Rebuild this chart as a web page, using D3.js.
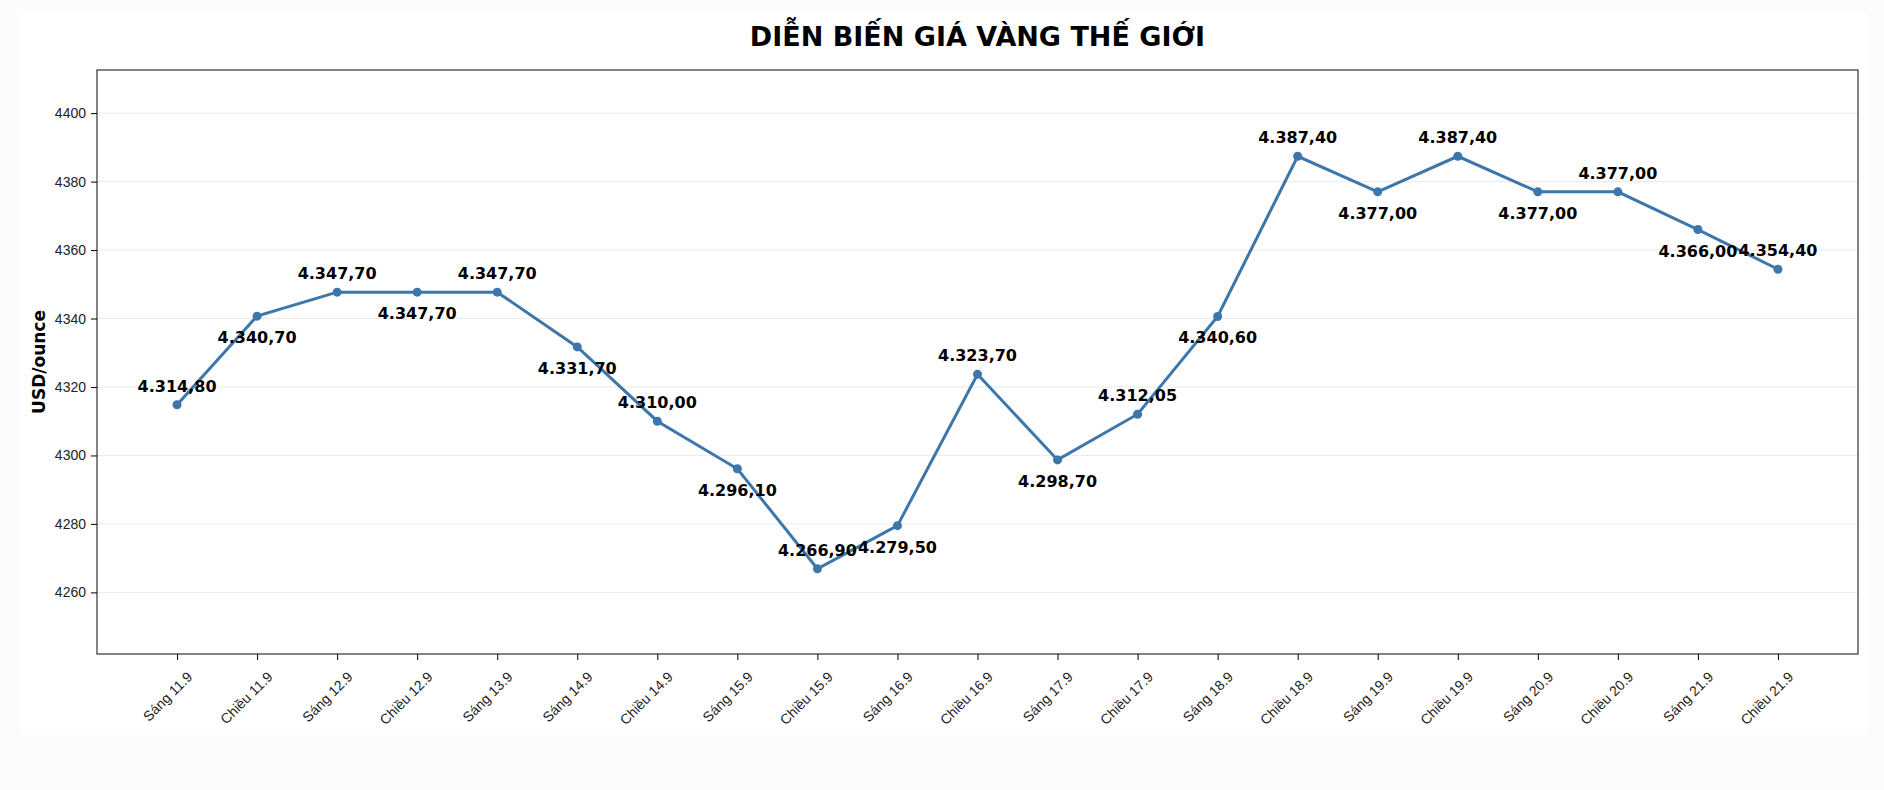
<!DOCTYPE html>
<html>
<head>
<meta charset="utf-8">
<script src="https://cdn.jsdelivr.net/npm/d3@7"></script>
<style>
  body { margin: 0; background: #fcfcfc; font-family: "DejaVu Sans", sans-serif; }
  .grid line { stroke: #ebebeb; }
  .axis text { font-size: 14px; fill: #222; }
  .lbl { font-size: 16px; font-weight: bold; fill: #000; }
</style>
</head>
<body>
<svg id="chart" width="1884" height="790"></svg>
<script>
const sessions = ["Sáng 11.9", "Chiều 11.9", "Sáng 12.9", "Chiều 12.9", "Sáng 13.9", "Sáng 14.9", "Chiều 14.9",
  "Sáng 15.9", "Chiều 15.9", "Sáng 16.9", "Chiều 16.9", "Sáng 17.9", "Chiều 17.9", "Sáng 18.9",
  "Chiều 18.9", "Sáng 19.9", "Chiều 19.9", "Sáng 20.9", "Chiều 20.9", "Sáng 21.9", "Chiều 21.9"];
const prices = [4314.80, 4340.70, 4347.70, 4347.70, 4347.70, 4331.70, 4310.00, 4296.10, 4266.90, 4279.50,
  4323.70, 4298.70, 4312.05, 4340.60, 4387.40, 4377.00, 4387.40, 4377.00, 4377.00, 4366.00, 4354.40];
const yTicks = [4260, 4280, 4300, 4320, 4340, 4360, 4380, 4400];

const plot = { left: 97, right: 1858, top: 70, bottom: 654 };
const svg = d3.select("#chart");

svg.append("rect").attr("x", 20).attr("y", 12).attr("width", 1847).attr("height", 722).attr("fill", "#fff");

const x = d3.scalePoint().domain(sessions).range([plot.left, plot.right]).padding(1);
const y = d3.scaleLinear().domain([4242, 4412.6]).range([plot.bottom, plot.top]);

svg.append("g").attr("class", "grid")
  .selectAll("line").data(yTicks).join("line")
  .attr("x1", plot.left).attr("x2", plot.right)
  .attr("y1", d => y(d)).attr("y2", d => y(d));

svg.append("rect")
  .attr("x", plot.left).attr("y", plot.top)
  .attr("width", plot.right - plot.left).attr("height", plot.bottom - plot.top)
  .attr("fill", "none").attr("stroke", "#333").attr("stroke-width", 1.2);

const yAxis = svg.append("g").attr("class", "axis")
  .attr("transform", `translate(${plot.left},0)`)
  .call(d3.axisLeft(y).tickValues(yTicks).tickSize(6).tickPadding(5).tickFormat(d3.format("d")));
yAxis.select(".domain").remove();

const xAxis = svg.append("g").attr("class", "axis")
  .attr("transform", `translate(0,${plot.bottom})`)
  .call(d3.axisBottom(x).tickSize(6));
xAxis.select(".domain").remove();
xAxis.selectAll("text")
  .attr("text-anchor", "end")
  .attr("transform", "translate(6,14) rotate(-45)")
  .attr("dy", "0.35em");

const line = d3.line().x((d, i) => x(sessions[i])).y(d => y(d));
svg.append("path").datum(prices)
  .attr("d", line).attr("fill", "none")
  .attr("stroke", "#3d76ab").attr("stroke-width", 3);

svg.append("g").selectAll("circle").data(prices).join("circle")
  .attr("cx", (d, i) => x(sessions[i])).attr("cy", d => y(d))
  .attr("r", 4.5).attr("fill", "#3d76ab");

const fmt = v => v.toFixed(2).replace(".", ",").replace(/^(\d)(\d{3})/, "$1.$2");
svg.append("g").selectAll("text").data(prices).join("text")
  .attr("class", "lbl").attr("text-anchor", "middle")
  .attr("x", (d, i) => x(sessions[i]))
  .attr("y", (d, i) => y(d) + (i % 2 === 0 ? -13 : 27))
  .text(fmt);

svg.append("text")
  .attr("x", (plot.left + plot.right) / 2).attr("y", 46)
  .attr("text-anchor", "middle")
  .style("font-size", "27px").style("font-weight", "bold")
  .text("DIỄN BIẾN GIÁ VÀNG THẾ GIỚI");

svg.append("text")
  .attr("transform", `translate(45,${(plot.top + plot.bottom) / 2}) rotate(-90)`)
  .attr("text-anchor", "middle")
  .style("font-size", "17px").style("font-weight", "bold")
  .text("USD/ounce");
</script>
</body>
</html>
